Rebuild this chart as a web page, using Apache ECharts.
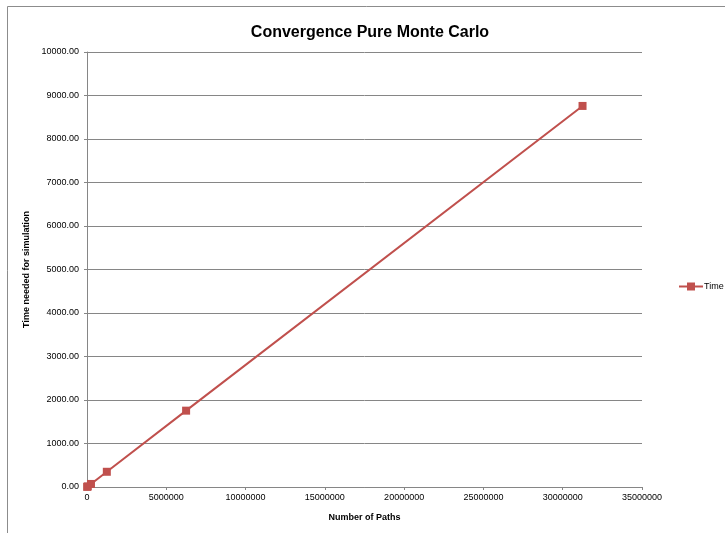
<!DOCTYPE html>
<html>
<head>
<meta charset="utf-8">
<script src="https://cdn.jsdelivr.net/npm/echarts@6/dist/echarts.min.js"></script>
<style>
  html, body { margin: 0; padding: 0; background: #fff; }
  #chart { width: 725px; height: 533px; }
</style>
</head>
<body>
<div id="chart"></div>
<script>
// Number of simulated paths and the time each run took
const paths = [10000, 50000, 250000, 1250000, 6250000, 31250000];
const timeNeeded = [3, 14, 70, 350, 1755, 8760];
const seriesName = 'Time';

const chart = echarts.init(document.getElementById('chart'));
const font = '"Liberation Sans", Arial, sans-serif';

chart.setOption({
  backgroundColor: '#ffffff',
  animation: false,
  title: {
    text: 'Convergence Pure Monte Carlo',
    left: 365,
    textAlign: 'center',
    top: 20,
    textStyle: { fontFamily: font, fontSize: 16, fontWeight: 'bold', color: '#000' }
  },
  legend: {
    orient: 'vertical',
    left: 678,
    top: 282,
    padding: 0,
    itemWidth: 24,
    itemHeight: 10,
    itemGap: 4,
    textStyle: { fontFamily: font, fontSize: 9, color: '#000', padding: [0, 0, 0, -4] },
    data: [seriesName]
  },
  graphic: [{
    type: 'rect',
    shape: { x: 7.5, y: 6.5, width: 900, height: 700 },
    style: { fill: 'none', stroke: '#8c8c8c', lineWidth: 1 },
    silent: true
  }],
  grid: { left: 87, right: 83, top: 52, bottom: 46 },
  xAxis: {
    type: 'value',
    min: 0,
    max: 35000000,
    interval: 5000000,
    name: 'Number of Paths',
    nameLocation: 'middle',
    nameGap: 26,
    nameTextStyle: { fontFamily: font, fontSize: 9, fontWeight: 'bold', color: '#000' },
    axisLine: { show: true, lineStyle: { color: '#868686', width: 1 } },
    axisTick: { show: true, length: 3, lineStyle: { color: '#868686' } },
    axisLabel: {
      fontFamily: font, fontSize: 9, color: '#000', margin: 6,
      formatter: v => String(v)
    },
    splitLine: { show: false }
  },
  yAxis: {
    type: 'value',
    min: 0,
    max: 10000,
    interval: 1000,
    name: 'Time needed for simulation',
    nameLocation: 'middle',
    nameGap: 46,
    nameTextStyle: { fontFamily: font, fontSize: 9, fontWeight: 'bold', color: '#000' },
    axisLine: { show: true, lineStyle: { color: '#868686', width: 1 } },
    axisTick: { show: true, length: 3, lineStyle: { color: '#868686' } },
    axisLabel: {
      fontFamily: font, fontSize: 9, color: '#000', margin: 8,
      formatter: v => v.toFixed(2)
    },
    splitLine: { show: true, lineStyle: { color: '#868686', width: 1 } }
  },
  series: [{
    name: seriesName,
    type: 'line',
    data: paths.map((p, i) => [p, timeNeeded[i]]),
    symbol: 'rect',
    symbolSize: 8,
    itemStyle: { color: '#C0504D' },
    lineStyle: { color: '#C0504D', width: 2 }
  }]
});
</script>
</body>
</html>
